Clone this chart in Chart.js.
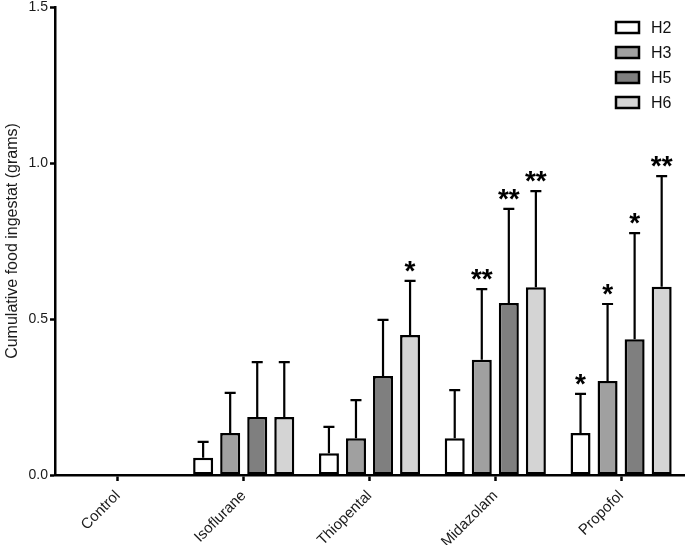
<!DOCTYPE html>
<html>
<head>
<meta charset="utf-8">
<style>
  html, body { margin: 0; padding: 0; background: #fff; }
  #wrap { width: 685px; height: 545px; }
</style>
<script src="https://cdn.jsdelivr.net/npm/chart.js@4/dist/chart.umd.min.js"></script>
</head>
<body>
<div id="wrap"><canvas id="chart" width="685" height="545"></canvas></div>
<script>
const categories = ['Control', 'Isoflurane', 'Thiopental', 'Midazolam', 'Propofol'];
const yTicks = [0, 0.5, 1.0, 1.5];

const h2 = [0, 0.055, 0.07, 0.118, 0.135];
const h3 = [0, 0.135, 0.118, 0.369, 0.301];
const h5 = [0, 0.186, 0.317, 0.551, 0.435];
const h6 = [0, 0.186, 0.449, 0.602, 0.603];

// upward error (SEM) for each bar
const h2Err = [0, 0.051, 0.084, 0.154, 0.125];
const h3Err = [0, 0.128, 0.122, 0.227, 0.247];
const h5Err = [0, 0.176, 0.18, 0.302, 0.34];
const h6Err = [0, 0.176, 0.173, 0.308, 0.355];

// significance marks
const h2Stars = ['', '', '', '', '*'];
const h3Stars = ['', '', '', '**', '*'];
const h5Stars = ['', '', '', '**', '*'];
const h6Stars = ['', '', '*', '**', '**'];

const FONT = '"Liberation Sans", Arial, Helvetica, sans-serif';

const errorBars = {
  id: 'errorBars',
  afterDatasetsDraw(chart) {
    const ctx = chart.ctx;
    const y = chart.scales.y;
    ctx.save();
    ctx.strokeStyle = '#000';
    ctx.lineWidth = 2.2;
    ctx.lineCap = 'butt';
    chart.data.datasets.forEach((ds, d) => {
      const meta = chart.getDatasetMeta(d);
      meta.data.forEach((bar, i) => {
        const err = ds.errors[i];
        const top = y.getPixelForValue(ds.data[i] + err);
        if (err > 0) {
          ctx.beginPath();
          ctx.moveTo(bar.x, bar.y);
          ctx.lineTo(bar.x, top);
          ctx.moveTo(bar.x - 5.5, top);
          ctx.lineTo(bar.x + 5.5, top);
          ctx.stroke();
        }
        const s = ds.stars[i];
        if (s) {
          ctx.fillStyle = '#000';
          ctx.font = 'bold 28px ' + FONT;
          ctx.textAlign = 'center';
          ctx.textBaseline = 'alphabetic';
          const m = ctx.measureText(s);
          ctx.fillText(s, bar.x, top - 9 - m.actualBoundingBoxDescent);
        }
      });
    });
    ctx.restore();
  }
};

const boxLegend = {
  id: 'boxLegend',
  afterDraw(chart) {
    const ctx = chart.ctx;
    ctx.save();
    chart.data.datasets.forEach((ds, d) => {
      const cy = 27.5 + d * 25;
      ctx.fillStyle = ds.backgroundColor;
      ctx.strokeStyle = '#000';
      ctx.lineWidth = 2.5;
      ctx.fillRect(616, cy - 5.5, 23, 11);
      ctx.strokeRect(616, cy - 5.5, 23, 11);
      ctx.fillStyle = '#111';
      ctx.font = '16px ' + FONT;
      ctx.textAlign = 'left';
      ctx.textBaseline = 'middle';
      ctx.fillText(ds.label, 651, cy + 1);
    });
    ctx.restore();
  }
};

const mk = (label, data, errors, stars, color) => ({
  label, data, errors, stars,
  backgroundColor: color,
  borderColor: '#000',
  borderWidth: 2.5,
  borderSkipped: false,
  categoryPercentage: 0.86,
  barPercentage: 0.74
});

new Chart(document.getElementById('chart'), {
  type: 'bar',
  data: {
    labels: categories,
    datasets: [
      mk('H2', h2, h2Err, h2Stars, '#ffffff'),
      mk('H3', h3, h3Err, h3Stars, '#a0a0a0'),
      mk('H5', h5, h5Err, h5Stars, '#7f7f7f'),
      mk('H6', h6, h6Err, h6Stars, '#d4d4d4')
    ]
  },
  options: {
    responsive: false,
    animation: false,
    devicePixelRatio: 1,
    layout: { padding: { top: 7, right: 1, left: 0, bottom: 0 } },
    plugins: { legend: { display: false }, tooltip: { enabled: false } },
    scales: {
      x: {
        offset: true,
        grid: { offset: false, drawOnChartArea: false, drawTicks: true, tickLength: 6, tickColor: '#000', tickWidth: 2.5 },
        border: { color: '#000', width: 2.5 },
        ticks: { color: '#1a1a1a', font: { family: FONT, size: 15 }, minRotation: 45, maxRotation: 45, padding: 6 },
        afterFit: s => { s.height = 70; }
      },
      y: {
        min: 0,
        max: 1.5,
        afterBuildTicks: s => { s.ticks = yTicks.map(v => ({ value: v })); },
        grid: { drawOnChartArea: false, drawTicks: true, tickLength: 5, tickColor: '#000', tickWidth: 2.5 },
        border: { color: '#000', width: 2.5 },
        ticks: { color: '#1a1a1a', font: { family: FONT, size: 14 }, padding: 2, callback: v => Number(v).toFixed(1) },
        title: { display: true, text: 'Cumulative food ingestat (grams)', color: '#1a1a1a', font: { family: FONT, size: 16 }, padding: { top: 3, bottom: 0 } },
        afterFit: s => { s.width = 55; s.paddingTop = 0; s.paddingBottom = 0; }
      }
    }
  },
  plugins: [errorBars, boxLegend]
});
</script>
</body>
</html>
